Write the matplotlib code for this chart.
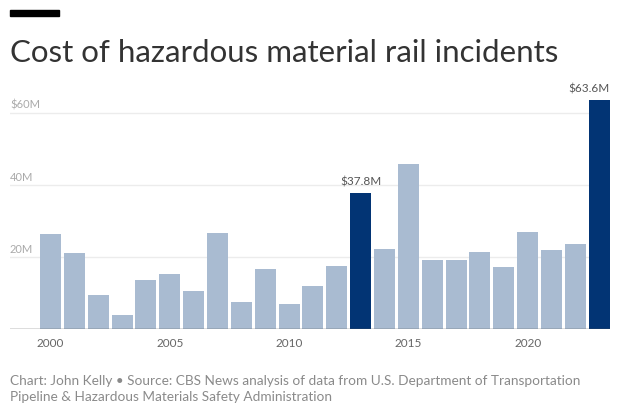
import numpy as np
from matplotlib import pyplot as plt
from matplotlib.patches import Rectangle

years = np.arange(2000, 2024)
cost = [26.4, 21.1, 9.5, 4.0, 13.7, 15.3, 10.6, 26.7, 7.6, 16.8, 6.9, 11.9,
        17.5, 37.8, 22.4, 45.8, 19.2, 19.3, 21.6, 17.2, 27.1, 21.9, 23.7, 63.6]
highlight = [2013, 2023]
labels = {2013: "$37.8M", 2023: "$63.6M"}
yticks = [20, 40, 60]
ytick_labels = ["20M", "40M", "$60M"]
xticks = [2000, 2005, 2010, 2015, 2020]

plt.rcParams['font.family'] = ['Lato', 'DejaVu Sans']

fig = plt.figure(figsize=(6.2, 4.15), dpi=100)
ax = fig.add_axes([10/620, 85.7/415, 600/620, 230.4/415])

colors = ["#023474" if y in highlight else "#a9bbd1" for y in years]
ax.bar(years, cost, width=0.88, color=colors, zorder=3)

ax.set_xlim(1998.3, 2023.45)
ax.set_ylim(0, 64)

for t, lab in zip(yticks, ytick_labels):
    ax.axhline(t, color="#ececec", lw=1, zorder=1)
    ax.text(1998.3, t + 1.3, lab, color="#aaaaaa", fontsize=8, ha="left", va="baseline")
ax.axhline(0, color="#555555", lw=1, zorder=4)

# value labels: last one right-aligned to the bar edge
for y, lab in labels.items():
    v = cost[y - 2000]
    if y == years[-1]:
        ax.text(y + 0.44, v + 2.3, lab, color="#555555", fontsize=8.5,
                ha="right", va="baseline")
    else:
        ax.text(y, v + 2.2, lab, color="#555555", fontsize=8.5,
                ha="center", va="baseline")

ax.set_yticks([])
ax.set_xticks(xticks)
ax.set_xticklabels([str(x) for x in xticks], color="#666666", fontsize=8.5)
ax.tick_params(axis="x", length=0, pad=6)
for s in ax.spines.values():
    s.set_visible(False)

fig.patches.append(Rectangle((10/620, 1 - 16/415), 49/620, 6/415,
                             transform=fig.transFigure, color="black"))
fig.text(10/620, 1 - 61.7/415, "Cost of hazardous material rail incidents",
         fontsize=22.5, color="#333333", va="baseline")
fig.text(10/620, 1 - 385/415,
         "Chart: John Kelly \u2022 Source: CBS News analysis of data from U.S. Department of Transportation",
         fontsize=9.8, color="#8a8a8a", va="baseline")
fig.text(10/620, 1 - 401/415, "Pipeline & Hazardous Materials Safety Administration",
         fontsize=9.8, color="#8a8a8a", va="baseline")

fig.savefig("out.png", dpi=100)
